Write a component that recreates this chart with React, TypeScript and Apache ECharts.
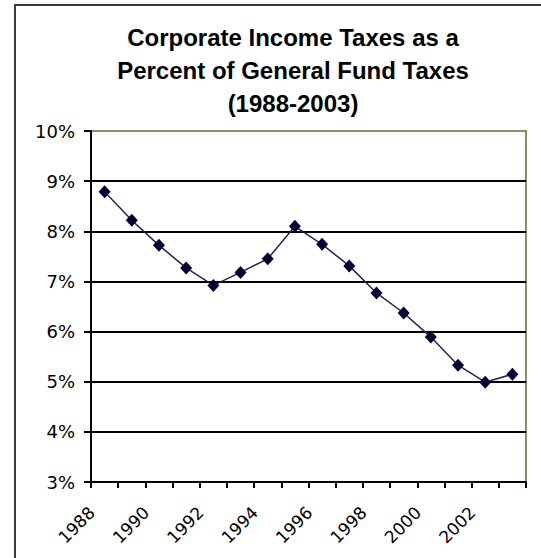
import React, { useEffect, useRef } from "react";
import * as echarts from "echarts";

const titleLines = ["Corporate Income Taxes as a", "Percent of General Fund Taxes", "(1988-2003)"];
const years = ["1988","1989","1990","1991","1992","1993","1994","1995","1996","1997","1998","1999","2000","2001","2002","2003"];
const corporateShare = [8.79, 8.22, 7.72, 7.27, 6.92, 7.18, 7.45, 8.1, 7.74, 7.31, 6.77, 6.37, 5.89, 5.33, 4.99, 5.15];
const yMin = 3;
const yMax = 10;
const yStep = 1;

export default function App() {
  const ref = useRef<HTMLDivElement>(null);
  useEffect(() => {
    if (!ref.current) return;
    const chart = echarts.init(ref.current, null, { renderer: "svg" });
    const titleFont = "Arial, 'Liberation Sans', sans-serif";
    const axisFont = "'DejaVu Sans', Arial, sans-serif";
    chart.setOption({
      animation: false,
      backgroundColor: "#ffffff",
      graphic: [
        {
          type: "rect",
          shape: { x: 15, y: 5, width: 600, height: 600 },
          style: { fill: "none", stroke: "#3a3a3a", lineWidth: 2 },
          z: 10,
        },
        {
          type: "text",
          x: 293,
          y: 21,
          style: {
            text: titleLines.join("\n"),
            fontSize: 24,
            fontWeight: "bold",
            fontFamily: titleFont,
            fill: "#000",
            align: "center",
            lineHeight: 33,
          },
        },
      ],
      grid: {
        left: 91,
        right: 15,
        top: 131,
        bottom: 76,
        show: true,
        borderColor: "#8c8c60",
        borderWidth: 2,
        backgroundColor: "#ffffff",
      },
      xAxis: {
        type: "category",
        data: years,
        boundaryGap: true,
        axisLine: { lineStyle: { color: "#000", width: 2 } },
        axisTick: { show: true, interval: 0, length: 6, lineStyle: { color: "#000", width: 2 } },
        axisLabel: {
          interval: 1,
          rotate: 45,
          margin: 15,
          padding: [0, 18, 0, 0],
          fontSize: 17,
          fontFamily: axisFont,
          color: "#000",
        },
        splitLine: { show: false },
      },
      yAxis: {
        type: "value",
        min: yMin,
        max: yMax,
        interval: yStep,
        axisLine: { show: true, lineStyle: { color: "#000", width: 2 } },
        axisTick: { show: true, length: 7, lineStyle: { color: "#000", width: 2 } },
        axisLabel: {
          formatter: "{value}%",
          fontSize: 18,
          fontFamily: axisFont,
          color: "#000",
          margin: 16,
        },
        splitLine: {
          show: true,
          showMaxLine: false,
          lineStyle: { color: "#000", width: 2 },
        },
      },
      series: [
        {
          type: "line",
          data: corporateShare,
          symbol: "diamond",
          symbolSize: [12, 13],
          itemStyle: { color: "#000033" },
          lineStyle: { color: "#23235a", width: 1.5 },
          z: 5,
        },
      ],
    });
    return () => chart.dispose();
  }, []);
  return <div ref={ref} style={{ position: "fixed", left: 0, top: 0, width: 541, height: 558 }} />;
}
